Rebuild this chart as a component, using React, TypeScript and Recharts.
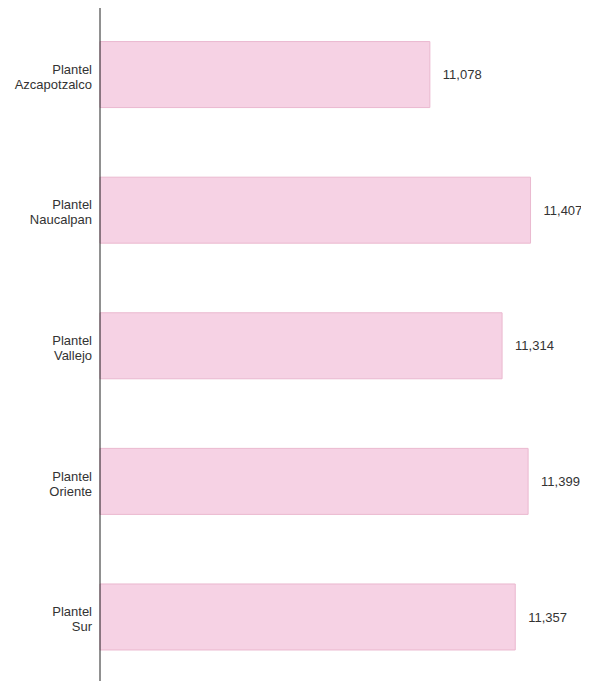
import { BarChart, Bar, XAxis, YAxis, LabelList } from 'recharts';

const planteles = [
  'Plantel Azcapotzalco',
  'Plantel Naucalpan',
  'Plantel Vallejo',
  'Plantel Oriente',
  'Plantel Sur',
];
const alumnos = [11078, 11407, 11314, 11399, 11357];

const data = planteles.map((name, i) => ({ name, value: alumnos[i] }));

const FONT = 'Arial, "Liberation Sans", sans-serif';

const PlantelTick = (props: any) => {
  const { x, y, payload } = props;
  const [first, ...rest] = String(payload.value).split(' ');
  return (
    <text
      x={x}
      y={y}
      textAnchor="end"
      fontSize={13}
      fontFamily={FONT}
      fill="#333"
    >
      <tspan x={x} dy={-1}>{first}</tspan>
      <tspan x={x} dy={15}>{rest.join(' ')}</tspan>
    </text>
  );
};

export default function App() {
  return (
    <div style={{ marginTop: -1 }}>
      <BarChart
        width={573}
        height={678}
        data={data}
        layout="vertical"
        barCategoryGap="25.5%"
        margin={{ top: 0, right: 22, bottom: 0, left: 0 }}
      >
        <XAxis type="number" domain={[10000, 11500]} hide />
        <YAxis
          type="category"
          dataKey="name"
          width={92}
          tickLine={false}
          axisLine={{ stroke: '#222', strokeWidth: 1 }}
          tick={<PlantelTick />}
          tickMargin={2}
        />
        <Bar
          dataKey="value"
          fill="#f6d2e4"
          stroke="#eab8cf"
          strokeWidth={1}
          isAnimationActive={false}
        >
          <LabelList
            dataKey="value"
            position="right"
            offset={13}
            formatter={(v: any) => Number(v).toLocaleString('en-US')}
            style={{ fontSize: 13, fontFamily: FONT, fill: '#333' }}
          />
        </Bar>
      </BarChart>
    </div>
  );
}
